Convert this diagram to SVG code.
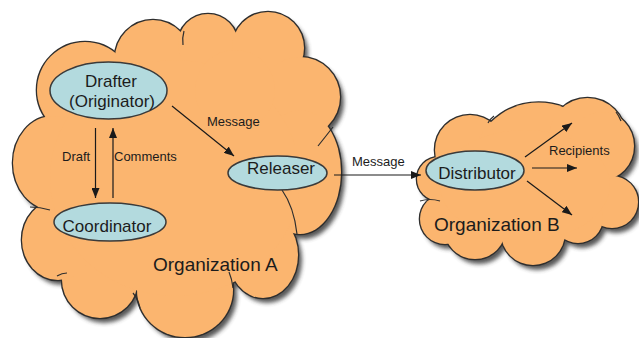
<svg xmlns="http://www.w3.org/2000/svg" xmlns:xlink="http://www.w3.org/1999/xlink" width="639" height="338" viewBox="0 0 639 338">
  <style>
    .cloud-shadow { fill: #3a3a3a; stroke: none; opacity: 0.85; }
    .cloud-edge { fill: #2e2e2e; stroke: #2e2e2e; stroke-width: 2.6; }
    .cloud-fill { fill: #fbb56f; stroke: none; }
    .cusp { fill: none; stroke: #2e2e2e; stroke-width: 1.2; }
    .node { fill: #b3dade; stroke: #3a3a3a; stroke-width: 1.5; }
    .label { font-family: "Liberation Sans", Arial, sans-serif; fill: #1c1c1c; }
    .node-text { font-size: 17px; text-anchor: middle; }
    .org-text { font-size: 19px; }
    .edge-text { font-size: 13px; }
    .link { stroke: #1a1a1a; stroke-width: 1.2; fill: none; marker-end: url(#arrow); }
  </style>
  <defs>
    <marker id="arrow" markerWidth="10" markerHeight="8" refX="10" refY="4" orient="auto" markerUnits="userSpaceOnUse">
      <path d="M0,0 L10,4 L0,8 z" fill="#1a1a1a"/>
    </marker>
    <filter id="soft" x="-10%" y="-10%" width="120%" height="120%">
      <feGaussianBlur stdDeviation="2.2"/>
    </filter>
    <!-- puffs that make up cloud A -->
    <g id="puffsA">
      <circle cx="85" cy="90" r="48"/>
      <circle cx="153" cy="58" r="38"/>
      <circle cx="208" cy="44" r="30"/>
      <circle cx="268" cy="48" r="36"/>
      <circle cx="300" cy="97" r="40"/>
      <ellipse cx="300" cy="172" rx="41" ry="62"/>
      <ellipse cx="263" cy="255" rx="35" ry="43"/>
      <ellipse cx="185" cy="290" rx="48" ry="47"/>
      <circle cx="100" cy="280" r="38"/>
      <ellipse cx="58" cy="240" rx="36" ry="40"/>
      <ellipse cx="53" cy="163" rx="40" ry="47"/>
      <ellipse cx="175" cy="178" rx="125" ry="118"/>
      <circle cx="235" cy="90" r="40"/>
    </g>
    <!-- puffs that make up cloud B -->
    <g id="puffsB">
      <circle cx="439" cy="179" r="22"/>
      <circle cx="470" cy="150" r="35"/>
      <circle cx="538.6" cy="170" r="67.5"/>
      <circle cx="587.5" cy="136" r="38"/>
      <ellipse cx="602" cy="146" rx="32" ry="34"/>
      <circle cx="612" cy="202" r="26"/>
      <circle cx="578" cy="218" r="25"/>
      <circle cx="533" cy="233" r="32"/>
      <circle cx="475" cy="228" r="31"/>
      <circle cx="445" cy="219" r="25"/>
      <ellipse cx="525" cy="185" rx="85" ry="55"/>
    </g>
  </defs>

  <!-- Organization A -->
  <g id="orgA">
    <use xlink:href="#puffsA" href="#puffsA" class="cloud-shadow" transform="translate(4,5)" filter="url(#soft)"/>
    <use xlink:href="#puffsA" href="#puffsA" class="cloud-edge"/>
    <use xlink:href="#puffsA" href="#puffsA" class="cloud-fill"/>
    <path class="cusp" d="M318,146 Q326,136 333,127"/>
    <path class="cusp" d="M282,190 Q294,207 297,234"/>
    <path class="cusp" d="M184,31 Q182,38 183,45"/>
    <path class="cusp" d="M133,293 Q138,299 140,308"/>
    <path class="cusp" d="M30,207 Q40,207 50,210"/>
    <path class="cusp" d="M57,276 Q62,273 67,273"/>
    <path class="cusp" d="M229,272 Q232,279 233,288"/>
    <text class="label org-text" x="153" y="271">Organization A</text>
  </g>

  <!-- Organization B -->
  <g id="orgB">
    <use xlink:href="#puffsB" href="#puffsB" class="cloud-shadow" transform="translate(4,5)" filter="url(#soft)"/>
    <use xlink:href="#puffsB" href="#puffsB" class="cloud-edge"/>
    <use xlink:href="#puffsB" href="#puffsB" class="cloud-fill"/>
    <path class="cusp" d="M488,123 Q490,119 494,116"/>
    <path class="cusp" d="M420,201 Q430,198 440,201"/>
    <path class="cusp" d="M616,112 Q619,116 621,121"/>
    <text class="label org-text" x="434" y="231">Organization B</text>
  </g>

  <!-- connectors -->
  <g id="connectors">
    <line class="link" x1="95.5" y1="128" x2="95.5" y2="198"/>
    <line class="link" x1="113" y1="198" x2="113" y2="128"/>
    <line class="link" x1="172" y1="106" x2="234" y2="156"/>
    <line class="link" x1="334" y1="175" x2="421" y2="175"/>
    <line class="link" x1="525" y1="157" x2="572" y2="123"/>
    <line class="link" x1="532" y1="168" x2="577" y2="168"/>
    <line class="link" x1="527" y1="181" x2="572" y2="215"/>
    <text class="label edge-text" x="62" y="161">Draft</text>
    <text class="label edge-text" x="114" y="161">Comments</text>
    <text class="label edge-text" x="207" y="126">Message</text>
    <text class="label edge-text" x="352" y="166">Message</text>
    <text class="label edge-text" x="549" y="155">Recipients</text>
  </g>

  <!-- nodes -->
  <g id="drafter">
    <ellipse class="node" cx="108.5" cy="90.5" rx="58.5" ry="28.5"/>
    <text class="label node-text" x="111" y="87">Drafter</text>
    <text class="label node-text" x="112" y="107">(Originator)</text>
  </g>
  <g id="coordinator">
    <ellipse class="node" cx="110" cy="222" rx="56" ry="19"/>
    <text class="label node-text" x="107" y="232">Coordinator</text>
  </g>
  <g id="releaser">
    <ellipse class="node" cx="277.5" cy="173" rx="49.5" ry="17"/>
    <text class="label node-text" x="281" y="174">Releaser</text>
  </g>
  <g id="distributor">
    <ellipse class="node" cx="475" cy="170.5" rx="49" ry="19.5"/>
    <text class="label node-text" x="477" y="179">Distributor</text>
  </g>
</svg>
